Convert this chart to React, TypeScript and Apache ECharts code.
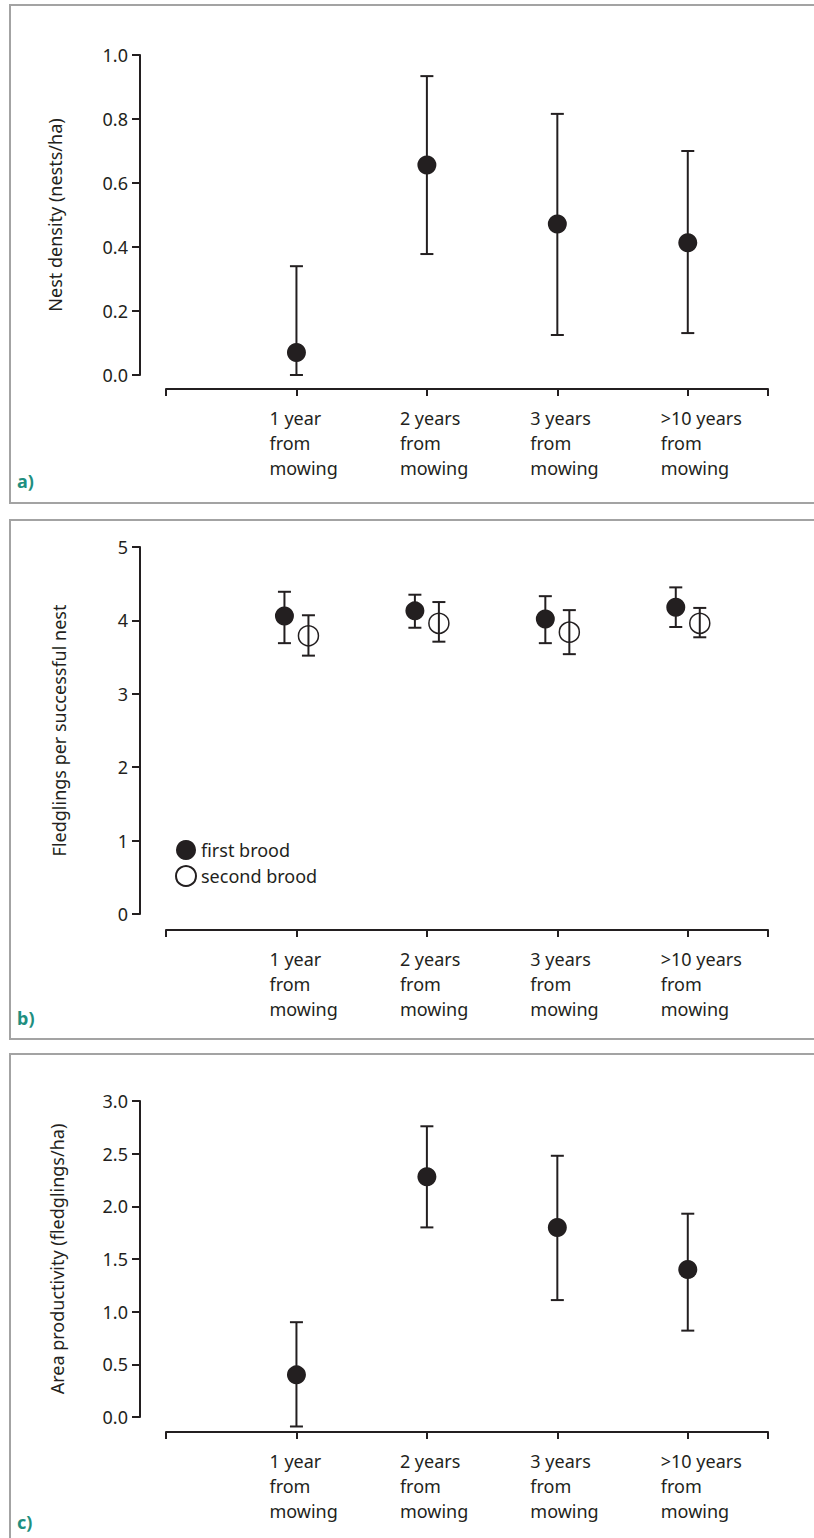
import React, { useEffect, useRef } from "react";
import * as echarts from "echarts";

const categories = ["1 year\nfrom\nmowing", "2 years\nfrom\nmowing", "3 years\nfrom\nmowing", ">10 years\nfrom\nmowing"];

// a) Nest density (nests/ha)
const densityMean = [0.07, 0.656, 0.472, 0.413];
const densityLow = [0.0, 0.378, 0.125, 0.131];
const densityHigh = [0.34, 0.934, 0.816, 0.7];

// b) Fledglings per successful nest
const firstMean = [4.06, 4.13, 4.02, 4.18];
const firstLow = [3.69, 3.9, 3.69, 3.91];
const firstHigh = [4.39, 4.35, 4.33, 4.45];
const secondMean = [3.79, 3.96, 3.84, 3.96];
const secondLow = [3.52, 3.71, 3.54, 3.77];
const secondHigh = [4.07, 4.25, 4.14, 4.17];

// c) Area productivity (fledglings/ha)
const prodMean = [0.4, 2.28, 1.8, 1.4];
const prodLow = [-0.09, 1.8, 1.11, 0.82];
const prodHigh = [0.9, 2.76, 2.48, 1.93];

const yTicksA = [0, 0.2, 0.4, 0.6, 0.8, 1.0];
const yTicksB = [0, 1, 2, 3, 4, 5];
const yTicksC = [0, 0.5, 1.0, 1.5, 2.0, 2.5, 3.0];

const INK = "#231f20";
const FONT = "'Noto Sans', 'DejaVu Sans', sans-serif";
const XMAX = 4.615;
const LABEL_SHIFT = 0.207;
const OFFSET_B = 0.092;

function errRender(params: any, api: any) {
  const x = api.value(0);
  const lo = api.value(1);
  const hi = api.value(2);
  const pLo = api.coord([x, lo]);
  const pHi = api.coord([x, hi]);
  const cap = 6.5;
  const style = { stroke: INK, lineWidth: 2 };
  return {
    type: "group",
    children: [
      { type: "line", shape: { x1: pLo[0], y1: pLo[1], x2: pHi[0], y2: pHi[1] }, style },
      { type: "line", shape: { x1: pLo[0] - cap, y1: pLo[1], x2: pLo[0] + cap, y2: pLo[1] }, style },
      { type: "line", shape: { x1: pHi[0] - cap, y1: pHi[1], x2: pHi[0] + cap, y2: pHi[1] }, style },
    ],
  };
}

function xAxisFor(gridIndex: number, offset: number) {
  return {
    type: "value",
    gridIndex,
    min: 0,
    max: XMAX,
    offset,
    axisLine: { show: true, onZero: false, lineStyle: { color: INK, width: 2 } },
    axisTick: { show: true, length: 7, lineStyle: { color: INK, width: 2 }, customValues: [0, 1, 2, 3, 4, XMAX] },
    splitLine: { show: false },
    axisLabel: {
      customValues: categories.map((_, i) => i + 1 - LABEL_SHIFT),
      formatter: (v: number) => categories[Math.round(v + LABEL_SHIFT) - 1] || "",
      align: "left",
      verticalAlign: "top",
      margin: 16,
      fontSize: 18,
      lineHeight: 25,
      color: INK,
      fontFamily: FONT,
    },
  };
}

function yAxisFor(gridIndex: number, ticks: number[], digits: number, name: string, nameGap: number) {
  const step = ticks[1] - ticks[0];
  return {
    type: "value",
    gridIndex,
    min: ticks[0],
    max: ticks[ticks.length - 1],
    interval: step,
    offset: 26,
    name,
    nameLocation: "middle",
    nameGap,
    nameRotate: 90,
    nameTextStyle: { fontSize: 18, color: INK, fontFamily: FONT },
    axisLine: { show: true, onZero: false, lineStyle: { color: INK, width: 2 } },
    axisTick: { show: true, length: 8, lineStyle: { color: INK, width: 2 } },
    splitLine: { show: false },
    axisLabel: {
      formatter: (v: number) => v.toFixed(digits),
      margin: 12,
      fontSize: 18,
      color: INK,
      fontFamily: FONT,
    },
  };
}

const filled = { color: INK, opacity: 1 };
const hollow = { color: "rgba(255,255,255,0)", borderColor: INK, borderWidth: 1.5, opacity: 1 };

export default function App() {
  const ref = useRef<HTMLDivElement>(null);
  useEffect(() => {
    if (!ref.current) return;
    const chart = echarts.init(ref.current, null, { renderer: "svg" });
    const option: any = {
      animation: false,
      backgroundColor: "#ffffff",
      textStyle: { fontFamily: FONT },
      grid: [
        { left: 166, top: 55, width: 602, height: 320 },
        { left: 166, top: 547, width: 602, height: 367 },
        { left: 166, top: 1101, width: 602, height: 316 },
      ],
      xAxis: [xAxisFor(0, 14), xAxisFor(1, 16), xAxisFor(2, 15)],
      yAxis: [
        yAxisFor(0, yTicksA, 1, "Nest density (nests/ha)", 76),
        yAxisFor(1, yTicksB, 0, "Fledglings per successful nest", 72),
        yAxisFor(2, yTicksC, 1, "Area productivity (fledglings/ha)", 74),
      ],
      legend: {
        orient: "vertical",
        left: 170,
        top: 835,
        itemWidth: 20,
        itemHeight: 20,
        itemGap: 5,
        selectedMode: false,
        textStyle: { fontSize: 18, color: INK, fontFamily: FONT },
        data: [
          { name: "first brood", icon: "circle" },
          { name: "second brood", icon: "circle" },
        ],
      },
      graphic: [
        { type: "rect", shape: { x: 10, y: 5, width: 820, height: 498 }, style: { fill: "none", stroke: "#a3a3a3", lineWidth: 2 }, silent: true, z: -1 },
        { type: "rect", shape: { x: 10, y: 520, width: 820, height: 519 }, style: { fill: "none", stroke: "#a3a3a3", lineWidth: 2 }, silent: true, z: -1 },
        { type: "rect", shape: { x: 10, y: 1054, width: 820, height: 520 }, style: { fill: "none", stroke: "#a3a3a3", lineWidth: 2 }, silent: true, z: -1 },
        { type: "text", left: 17, top: 472, style: { text: "a)", fill: "#1f8f80", font: `bold 18px ${FONT}` } },
        { type: "text", left: 17, top: 1009, style: { text: "b)", fill: "#1f8f80", font: `bold 18px ${FONT}` } },
        { type: "text", left: 17, top: 1513, style: { text: "c)", fill: "#1f8f80", font: `bold 18px ${FONT}` } },
      ],
      series: [
        {
          type: "custom",
          name: "density error",
          xAxisIndex: 0,
          yAxisIndex: 0,
          renderItem: errRender,
          encode: { x: 0, y: [1, 2] },
          data: densityMean.map((_, i) => [i + 1, densityLow[i], densityHigh[i]]),
          z: 1,
        },
        {
          type: "scatter",
          name: "density",
          xAxisIndex: 0,
          yAxisIndex: 0,
          symbol: "circle",
          symbolSize: 19,
          itemStyle: filled,
          data: densityMean.map((v, i) => [i + 1, v]),
          z: 2,
        },
        {
          type: "custom",
          name: "first error",
          xAxisIndex: 1,
          yAxisIndex: 1,
          renderItem: errRender,
          encode: { x: 0, y: [1, 2] },
          data: firstMean.map((_, i) => [i + 1 - OFFSET_B, firstLow[i], firstHigh[i]]),
          z: 1,
        },
        {
          type: "custom",
          name: "second error",
          xAxisIndex: 1,
          yAxisIndex: 1,
          renderItem: errRender,
          encode: { x: 0, y: [1, 2] },
          data: secondMean.map((_, i) => [i + 1 + OFFSET_B, secondLow[i], secondHigh[i]]),
          z: 1,
        },
        {
          type: "scatter",
          name: "first brood",
          xAxisIndex: 1,
          yAxisIndex: 1,
          symbol: "circle",
          symbolSize: 19,
          itemStyle: filled,
          data: firstMean.map((v, i) => [i + 1 - OFFSET_B, v]),
          z: 2,
        },
        {
          type: "scatter",
          name: "second brood",
          xAxisIndex: 1,
          yAxisIndex: 1,
          symbol: "circle",
          symbolSize: 20,
          itemStyle: hollow,
          data: secondMean.map((v, i) => [i + 1 + OFFSET_B, v]),
          z: 2,
        },
        {
          type: "custom",
          name: "productivity error",
          xAxisIndex: 2,
          yAxisIndex: 2,
          renderItem: errRender,
          encode: { x: 0, y: [1, 2] },
          data: prodMean.map((_, i) => [i + 1, prodLow[i], prodHigh[i]]),
          z: 1,
        },
        {
          type: "scatter",
          name: "productivity",
          xAxisIndex: 2,
          yAxisIndex: 2,
          symbol: "circle",
          symbolSize: 19,
          itemStyle: filled,
          data: prodMean.map((v, i) => [i + 1, v]),
          z: 2,
        },
      ],
    };
    chart.setOption(option);
    return () => chart.dispose();
  }, []);
  return <div ref={ref} style={{ position: "absolute", left: 0, top: 0, width: 814, height: 1538 }} />;
}
